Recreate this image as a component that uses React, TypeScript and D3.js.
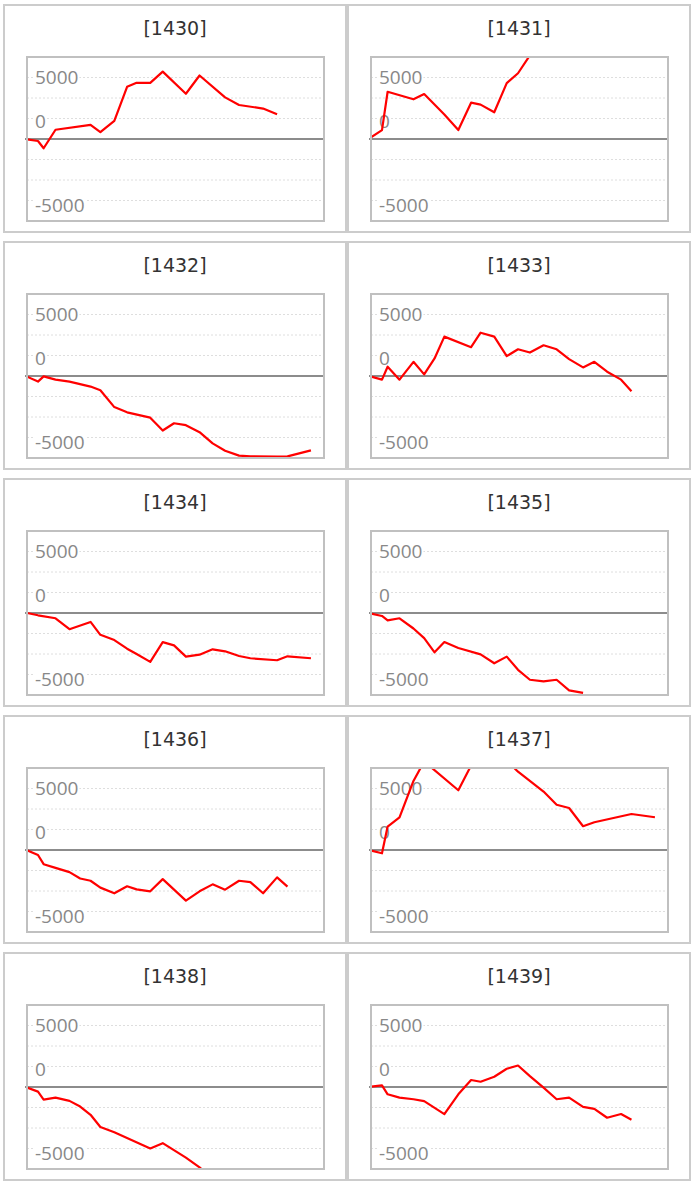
import React, { useEffect, useRef } from "react";
import * as d3 from "d3";

const codes = ["1430", "1431", "1432", "1433", "1434", "1435", "1436", "1437", "1438", "1439"];

// shared x positions (percent of the period) of the observations
const steps = [0, 3.7, 5.6, 9.6, 14.3, 17.9, 21.4, 24.7, 29.4, 33.7, 36.9, 41.5, 45.7, 49.5, 53.5, 58.1, 62.5, 66.7, 71.4, 75.2, 79.5, 84.2, 87.7, 91.5, 95.6];

const s1430 = [-40, -240, -1130, 1130, null, null, 1730, 850, 2220, 6370, 6850, 6850, 8220, null, 5520, 7740, null, 5080, 4150, null, 3710, 3020];
const s1431 = [200, 1090, 5760, null, 4840, 5480, null, 2980, 1090, 4430, 4190, 3260, 6810, 8020, 10200, 12400];
const s1432 = [-80, -685, -40, -445, -685, null, -1290, -1730, -3790, -4430, null, -5080, -6650, -5760, -6000, -6850, -8220, -9110, -9710, -9790, null, -9830, -9800, null, -9070];
const s1433 = [-80, -445, 1130, -445, 1730, 200, 2140, 4800, null, 3510, 5280, 4800, 2420, 3260, 2860, 3750, 3260, 2060, 1050, 1730, 520, -445, -1850];
const s1434 = [0, -280, null, -645, -1975, null, -1090, -2660, -3300, -4350, -5000, -5960, -3550, -3950, -5320, -5080, -4430, -4670, -5240, -5520, null, -5760, -5280, null, -5520];
const s1435 = [-80, -360, -890, -645, -1890, -3060, -4800, -3550, -4270, null, -5040, -6130, -5320, -6930, -8140, -8340, -8140, -9430, -9750];
const s1436 = [-40, -605, -1730, -2180, -2700, -3470, -3750, -4590, -5280, -4430, -4800, -5040, -3550, null, -6170, -5040, -4190, -4840, -3750, -3910, -5280, -3340, -4470];
const s1437 = [-80, -400, 2860, 3990, 8420, 10800, null, null, 7290, 10300, 11700, 12000, 10900, 9550, null, 7130, 5520, 5120, 2900, 3390, null, null, 4390, null, 3990];
const s1438 = [-80, -565, -1530, -1290, -1690, -2380, -3390, -4880, -5520, null, null, -7490, -6850, null, -8620, -9800, -11200];
const s1439 = [40, 200, -890, -1290, -1490, -1730, null, -3300, -890, 850, 645, 1250, 2220, 2620, 1330, -80, -1490, -1290, -2420, -2660, -3750, -3300, -3990];

const seriesList = [s1430, s1431, s1432, s1433, s1434, s1435, s1436, s1437, s1438, s1439];

const yTickLabels = ["5000", "0", "-5000"];
const yLabelAnchors = [7500, 2500, -7500];
const gridValues = [-7500, -5000, -2500, 2500, 5000, 7500];
const yDomain = [-10000, 10000];
const xDomain = [0, 100];

export default function App() {
  const ref = useRef<SVGSVGElement>(null);

  useEffect(() => {
    const svg = d3.select(ref.current);
    svg.selectAll("*").remove();
    svg.append("rect").attr("width", 694).attr("height", 1187).attr("fill", "#fff");

    const panelW = 344;
    const panelH = 229;
    const rowPitch = 237;
    const pl = 24, pt = 53, pw = 297, ph = 164;
    const labelDy = [6.5, 9.5, 11];

    codes.forEach((code, i) => {
      const col = i % 2;
      const row = Math.floor(i / 2);
      const x0 = 3 + col * panelW;
      const y0 = 4 + row * rowPitch;
      const g = svg.append("g").attr("transform", `translate(${x0},${y0})`);

      g.append("rect")
        .attr("x", 1).attr("y", 1)
        .attr("width", panelW - 2).attr("height", panelH - 2)
        .attr("fill", "#fff").attr("stroke", "#cccccc").attr("stroke-width", 2);

      g.append("text")
        .attr("x", panelW / 2).attr("y", 30.5)
        .attr("text-anchor", "middle")
        .attr("font-family", "'DejaVu Sans', Verdana, sans-serif")
        .attr("font-size", 19)
        .attr("fill", "#333")
        .text(`[${code}]`);

      const x = d3.scaleLinear().domain(xDomain).range([pl, pl + pw]);
      const y = d3.scaleLinear().domain(yDomain).range([pt + ph, pt]);

      const clipId = `clip-${code}`;
      g.append("clipPath").attr("id", clipId)
        .append("rect").attr("x", pl).attr("y", pt).attr("width", pw).attr("height", ph);

      g.selectAll("line.grid").data(gridValues).enter().append("line")
        .attr("class", "grid")
        .attr("x1", pl).attr("x2", pl + pw)
        .attr("y1", (d) => y(d)).attr("y2", (d) => y(d))
        .attr("stroke", "#dedede").attr("stroke-width", 1)
        .attr("stroke-dasharray", "2,2");

      yTickLabels.forEach((lab, k) => {
        const t = g.append("text")
          .attr("x", pl + 8)
          .attr("y", y(yLabelAnchors[k]) + labelDy[k])
          .attr("font-family", "'Open Sans', sans-serif")
          .attr("font-size", 19)
          .attr("fill", "#888888")
          .text(lab);
        const bb = (t.node() as SVGTextElement).getBBox();
        g.insert("rect", () => t.node() as any)
          .attr("x", bb.x - 1).attr("y", bb.y + 3)
          .attr("width", bb.width + 2).attr("height", bb.height - 6)
          .attr("fill", "#fff");
      });

      g.append("line")
        .attr("x1", pl - 2).attr("x2", pl + pw)
        .attr("y1", y(0)).attr("y2", y(0))
        .attr("stroke", "#8c8c8c").attr("stroke-width", 2);

      const vals = seriesList[i];
      const pts: [number, number][] = [];
      vals.forEach((v, j) => {
        if (v !== null && v !== undefined) pts.push([steps[j], v as number]);
      });
      const line = d3.line<[number, number]>().x((d) => x(d[0])).y((d) => y(d[1]));
      g.append("path")
        .attr("clip-path", `url(#${clipId})`)
        .attr("d", line(pts) as string)
        .attr("fill", "none")
        .attr("stroke", "#ff0000")
        .attr("stroke-width", 2.2)
        .attr("stroke-linejoin", "round");

      g.append("rect")
        .attr("x", pl).attr("y", pt).attr("width", pw).attr("height", ph)
        .attr("fill", "none").attr("stroke", "#c0c0c0").attr("stroke-width", 2);
    });
  }, []);

  return (
    <svg
      ref={ref}
      width={694}
      height={1187}
      style={{ position: "absolute", left: 0, top: 0, display: "block" }}
    />
  );
}
